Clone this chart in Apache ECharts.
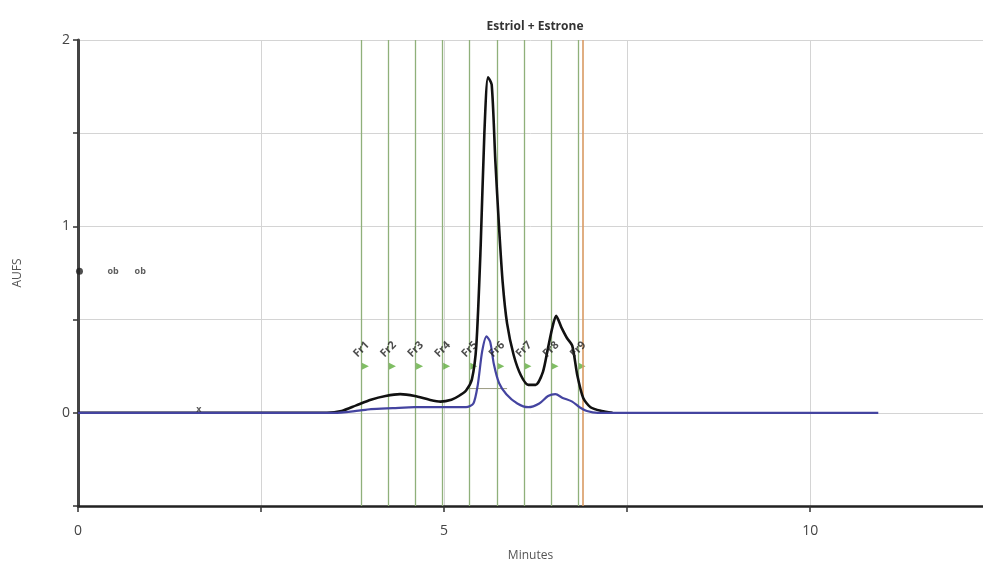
<!DOCTYPE html>
<html>
<head>
<meta charset="utf-8">
<script src="https://cdn.jsdelivr.net/npm/echarts@6/dist/echarts.min.js"></script>
<style>html,body{margin:0;padding:0;background:#fff;}#c{width:983px;height:565px;}</style>
</head>
<body>
<div id="c"></div>
<script>
// ---- data ----
const blackTime = [0, 3.4, 3.6, 3.8, 4.0, 4.2, 4.4, 4.6, 4.8, 4.95, 5.1, 5.2, 5.3, 5.38, 5.44, 5.5, 5.55, 5.6, 5.65, 5.7, 5.75, 5.8, 5.86, 5.95, 6.05, 6.15, 6.25, 6.35, 6.42, 6.48, 6.53, 6.6, 6.68, 6.75, 6.82, 6.9, 7.0, 7.15, 7.3];
const blackAUFS = [0, 0, 0.01, 0.04, 0.07, 0.09, 0.1, 0.09, 0.07, 0.06, 0.07, 0.09, 0.12, 0.18, 0.36, 0.9, 1.5, 1.8, 1.76, 1.35, 1.0, 0.7, 0.48, 0.31, 0.2, 0.15, 0.15, 0.22, 0.35, 0.46, 0.52, 0.46, 0.4, 0.36, 0.2, 0.08, 0.03, 0.01, 0];
const blueTime = [0, 3.5, 3.8, 4.0, 4.3, 4.6, 5.0, 5.3, 5.4, 5.46, 5.52, 5.58, 5.63, 5.68, 5.75, 5.85, 6.0, 6.15, 6.3, 6.42, 6.52, 6.62, 6.75, 6.85, 6.95, 7.1, 10.93];
const blueAUFS = [0, 0, 0.01, 0.02, 0.025, 0.03, 0.03, 0.03, 0.05, 0.15, 0.33, 0.41, 0.38, 0.26, 0.16, 0.1, 0.05, 0.03, 0.05, 0.09, 0.1, 0.08, 0.06, 0.03, 0.01, 0, 0];
const fractionTimes = [3.87, 4.24, 4.61, 4.98, 5.35, 5.72, 6.09, 6.46, 6.83];
const fractionNames = ['Fr1', 'Fr2', 'Fr3', 'Fr4', 'Fr5', 'Fr6', 'Fr7', 'Fr8', 'Fr9'];
const endTime = 6.9;
const fractionLabelLevel = 0.34;
const fractionMarkLevel = 0.25;
const peakBaseTime = [5.35, 5.86];
const peakBaseAUFS = [0.13, 0.13];
const annotTime = [0.02, 0.48, 0.85, 1.65];
const annotAUFS = [0.76, 0.76, 0.76, 0.02];
const annotText = ['', 'ob', 'ob', 'x'];
const xLabels = [0, 5, 10];
const yLabels = [0, 1, 2];

const pairs = (xs, ys) => xs.map((x, i) => [x, ys[i]]);

const chart = echarts.init(document.getElementById('c'), null, {renderer: 'canvas'});
const fontFam = '"Open Sans", "Noto Sans", sans-serif';
chart.setOption({
  animation: false,
  backgroundColor: '#fff',
  title: {
    text: 'Estriol + Estrone',
    left: 530, top: 16, textAlign: 'center',
    textStyle: {fontSize: 12, fontWeight: 'bold', color: '#333', fontFamily: fontFam}
  },
  grid: {left: 78, right: 0, top: 40, bottom: 59, containLabel: false, outerBoundsMode: 'none'},
  xAxis: {
    type: 'value', min: 0, max: 12.36, interval: 2.5,
    name: 'Minutes', nameLocation: 'middle', nameGap: 44,
    nameTextStyle: {fontSize: 12, color: '#555', fontFamily: fontFam},
    axisLine: {show: true, onZero: false, lineStyle: {color: '#222', width: 2.5}},
    axisTick: {show: true, length: 6, lineStyle: {color: '#333', width: 1.5}},
    axisLabel: {
      fontSize: 14, color: '#444', fontFamily: fontFam, margin: 18,
      showMaxLabel: false,
      formatter: v => (xLabels.indexOf(v) >= 0 ? String(v) : '')
    },
    splitLine: {show: true, lineStyle: {color: '#d4d4d4', width: 1}}
  },
  yAxis: {
    type: 'value', min: -0.5, max: 2, interval: 0.5,
    name: 'AUFS', nameLocation: 'middle', nameGap: 54, nameRotate: 90,
    nameTextStyle: {fontSize: 12, color: '#555', fontFamily: fontFam},
    axisLine: {show: true, onZero: false, lineStyle: {color: '#444', width: 3}},
    axisTick: {show: true, length: 5, lineStyle: {color: '#333', width: 1.5}},
    axisLabel: {
      fontSize: 14, color: '#444', fontFamily: fontFam, margin: 8,
      formatter: v => (yLabels.indexOf(v) >= 0 ? String(v) : '')
    },
    splitLine: {show: true, lineStyle: {color: '#d4d4d4', width: 1}}
  },
  series: [
    {
      type: 'line', name: 'fractions', data: [], silent: true,
      markLine: {
        silent: true, symbol: ['none', 'none'], label: {show: false},
        data: fractionTimes.map(t => ({xAxis: t, lineStyle: {color: '#8fb07a', width: 1.3, type: 'solid', opacity: 1}}))
          .concat([{xAxis: endTime, lineStyle: {color: '#d99a63', width: 1.6, type: 'solid', opacity: 1}}])
      }
    },
    {
      type: 'line', name: 'peak base', data: pairs(peakBaseTime, peakBaseAUFS),
      symbol: 'none', lineStyle: {color: '#9a9a80', width: 1}, z: 3
    },
    {
      type: 'line', name: 'Estriol + Estrone', data: pairs(blackTime, blackAUFS),
      symbol: 'none', smooth: 0.25, lineStyle: {color: '#111', width: 2.6}, z: 5
    },
    {
      type: 'line', name: 'blue', data: pairs(blueTime, blueAUFS),
      symbol: 'none', smooth: 0.25, lineStyle: {color: '#4444a0', width: 2.2}, z: 6
    },
    {
      type: 'scatter', name: 'fraction marks',
      data: fractionTimes.map(t => [t, fractionMarkLevel]),
      symbol: 'triangle', symbolSize: [7, 7], symbolRotate: -90, symbolOffset: [4, 0],
      itemStyle: {color: '#5fae3c'}, z: 4
    },
    {
      type: 'scatter', name: 'fraction labels',
      data: fractionTimes.map((t, i) => ({value: [t, fractionLabelLevel], name: fractionNames[i]})),
      symbolSize: 0, z: 7,
      label: {
        show: true, formatter: p => p.name, rotate: 45, position: 'inside',
        fontSize: 11, fontWeight: 'bold', color: '#222', fontFamily: fontFam
      }
    },
    {
      type: 'scatter', name: 'annotations',
      data: annotTime.map((t, i) => ({value: [t, annotAUFS[i]], name: annotText[i]})),
      symbol: 'circle', symbolSize: (v, p) => (p.name === '' ? 7 : 0),
      itemStyle: {color: '#222'}, z: 7,
      label: {
        show: true, formatter: p => p.name, position: 'inside',
        fontSize: 9, fontWeight: 'bold', color: '#333', fontFamily: fontFam
      }
    }
  ]
});
</script>
</body>
</html>
